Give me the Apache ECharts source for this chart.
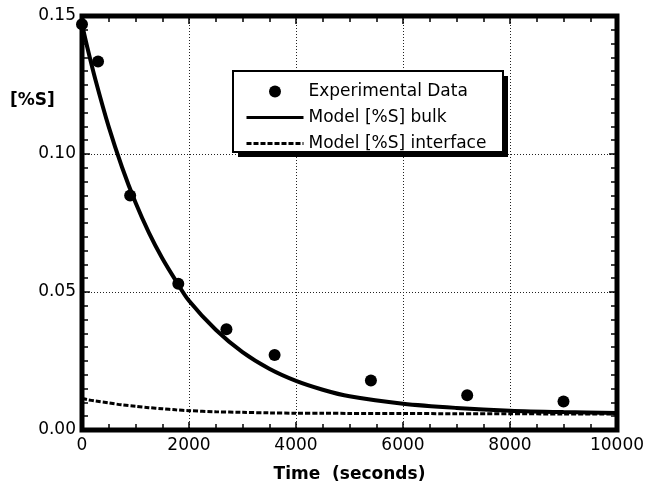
<!DOCTYPE html>
<html>
<head>
<meta charset="utf-8">
<script src="https://cdn.jsdelivr.net/npm/echarts@6/dist/echarts.min.js"></script>
<style>
html,body{margin:0;padding:0;background:#fff;}
#chart{width:651px;height:491px;}
</style>
</head>
<body>
<div id="chart"></div>
<script>
// Experimental data
const expTime = [0, 300, 900, 1800, 2700, 3600, 5400, 7200, 9000];
const expS = [0.147, 0.1335, 0.085, 0.053, 0.0365, 0.0272, 0.0179, 0.0126, 0.0103];

// Model curves
const modelTime = [0, 100, 250, 500, 750, 1000, 1250, 1500, 1750, 2000, 2500, 3000, 3500, 4000, 4500, 5000, 6000, 7000, 8000, 9000, 10000];
const bulkS = [0.147, 0.1386, 0.127, 0.1098, 0.0951, 0.0824, 0.0715, 0.0622, 0.0542, 0.0468, 0.0363, 0.0282, 0.0222, 0.0178, 0.0146, 0.0122, 0.0095, 0.0080, 0.0070, 0.0065, 0.0062];
const interfaceS = [0.0114, 0.0110, 0.0105, 0.0098, 0.0091, 0.0086, 0.0081, 0.0077, 0.0073, 0.0070, 0.0066, 0.0064, 0.0062, 0.0061, 0.0061, 0.0060, 0.0060, 0.0059, 0.0059, 0.0058, 0.0058];

const seriesNames = ['Experimental Data', 'Model [%S] bulk', 'Model [%S] interface'];
const xTitle = 'Time  (seconds)';
const yTitle = '[%S]';

const zip = (a, b) => a.map((v, i) => [v, b[i]]);
const FONT = '"DejaVu Sans", sans-serif';

const chart = echarts.init(document.getElementById('chart'));

const G = { left: 82, right: 34, top: 16, bottom: 61 };
const majorTick = { show: true, inside: true, length: 8, lineStyle: { color: '#000', width: 1.5 } };
const minorTickStyle = { show: true, inside: true, length: 6, lineStyle: { color: '#000', width: 1.5 } };
const gridLine = { show: true, lineStyle: { color: '#222', width: 1, type: [1, 2] } };

function xAx(gi, pos, interval, withLabels, withSplit, tick) {
  return {
    type: 'value', gridIndex: gi, position: pos, min: 0, max: 10000, interval: interval,
    axisLine: { show: false, onZero: false }, axisTick: tick, minorTick: { show: false },
    axisLabel: withLabels ? { fontFamily: FONT, fontSize: 17, color: '#000', margin: 7, formatter: v => String(v) } : { show: false },
    splitLine: withSplit ? gridLine : { show: false },
    name: withLabels ? xTitle : '', nameLocation: 'middle', nameGap: 36,
    nameTextStyle: { fontFamily: FONT, fontSize: 17, fontWeight: 'bold', color: '#000' }
  };
}
function yAx(gi, pos, interval, withLabels, withSplit, tick) {
  return {
    type: 'value', gridIndex: gi, position: pos, min: 0, max: 0.15, interval: interval,
    axisLine: { show: false, onZero: false }, axisTick: tick, minorTick: { show: false },
    axisLabel: withLabels ? { fontFamily: FONT, fontSize: 17, color: '#000', margin: 6, formatter: v => v.toFixed(2) } : { show: false },
    splitLine: withSplit ? gridLine : { show: false }
  };
}

chart.setOption({
  animation: false,
  backgroundColor: '#fff',
  grid: [
    Object.assign({ show: true, borderColor: '#000', borderWidth: 5, backgroundColor: 'transparent', z: 3 }, G),
    Object.assign({ show: false }, G)
  ],
  xAxis: [
    xAx(0, 'bottom', 2000, true, true, majorTick),
    xAx(0, 'top', 2000, false, false, majorTick),
    xAx(1, 'bottom', 500, false, false, minorTickStyle),
    xAx(1, 'top', 500, false, false, minorTickStyle)
  ],
  yAxis: [
    yAx(0, 'left', 0.05, true, true, majorTick),
    yAx(0, 'right', 0.05, false, false, majorTick),
    yAx(1, 'left', 0.005, false, false, minorTickStyle),
    yAx(1, 'right', 0.005, false, false, minorTickStyle)
  ],
  legend: {
    orient: 'vertical', left: 233, top: 71,
    data: seriesNames,
    itemWidth: 57, itemHeight: 12, itemGap: 9,
    padding: [12, 14, 4, 12],
    backgroundColor: 'transparent', borderWidth: 0,
    lineStyle: { width: 3 },
    textStyle: { fontFamily: FONT, fontSize: 17, color: '#000' },
    z: 6
  },
  graphic: [{
    type: 'rect', z: 4, shape: { x: 238, y: 76, width: 270, height: 81 },
    style: { fill: '#000' }
  }, {
    type: 'rect', z: 5, shape: { x: 233, y: 71, width: 270, height: 81 },
    style: { fill: '#fff', stroke: '#000', lineWidth: 2 }
  }, {
    type: 'text', left: 10, top: 92, z: 5,
    style: { text: yTitle, font: 'bold 17px ' + FONT, fill: '#000' }
  }],
  series: [{
    name: seriesNames[0], type: 'scatter', symbol: 'circle', symbolSize: 12,
    itemStyle: { color: '#000', opacity: 1 }, z: 5,
    data: zip(expTime, expS)
  }, {
    name: seriesNames[1], type: 'line', symbol: 'none', smooth: 0.3,
    lineStyle: { color: '#000', width: 4 }, itemStyle: { color: 'rgba(0,0,0,0)' },
    data: zip(modelTime, bulkS)
  }, {
    name: seriesNames[2], type: 'line', symbol: 'none', smooth: 0.3,
    lineStyle: { color: '#000', width: 3, type: [5, 2] }, itemStyle: { color: 'rgba(0,0,0,0)' },
    data: zip(modelTime, interfaceS)
  }]
});
</script>
</body>
</html>
